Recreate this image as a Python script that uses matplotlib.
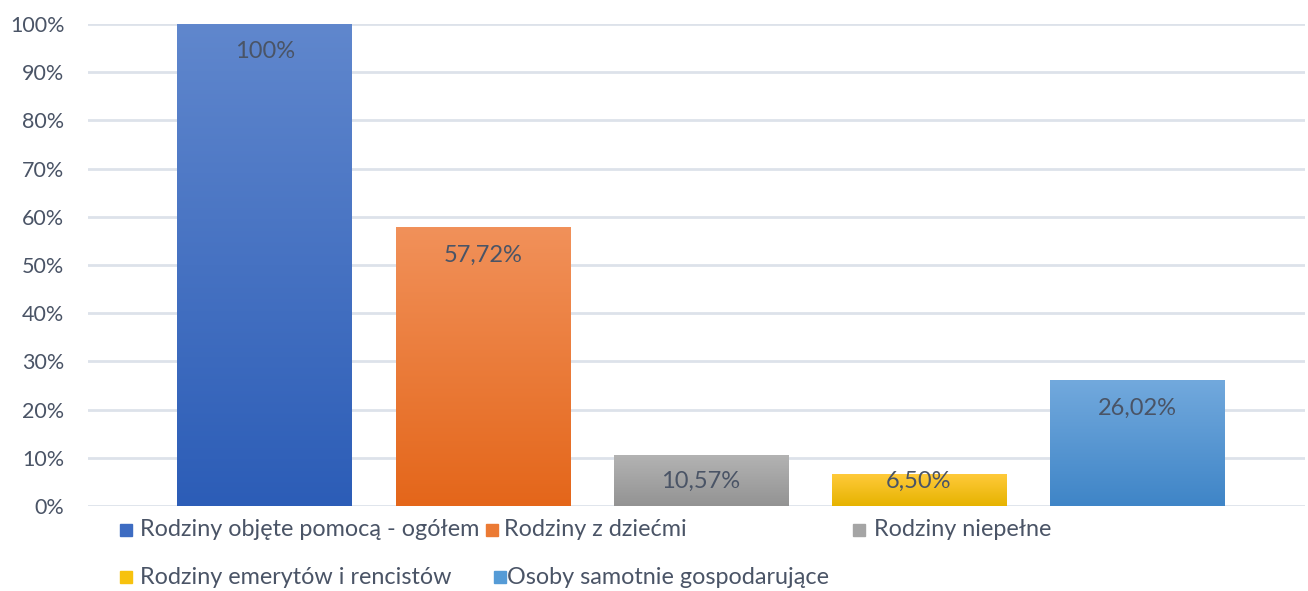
import matplotlib
matplotlib.use('Agg')
import matplotlib.pyplot as plt
import matplotlib.patches as mpatches
import numpy as np

plt.rcParams['font.family'] = ['Lato', 'DejaVu Sans']

# dane
kategorie = ['Rodziny objęte pomocą - ogółem', 'Rodziny z dziećmi', 'Rodziny niepełne',
             'Rodziny emerytów i rencistów', 'Osoby samotnie gospodarujące']
wartosci = [100.0, 57.72, 10.57, 6.50, 26.02]
etykiety = ['100%', '57,72%', '10,57%', '6,50%', '26,02%']
kolory_gora = ['#6087cd', '#f1915a', '#b3b3b3', '#ffca3a', '#72a9dd']
kolory_dol = ['#2c5db7', '#e4661a', '#939393', '#e6b300', '#3f85c7']
kolory_leg = ['#3d6cc2', '#eb7a34', '#a5a5a5', '#f7c20e', '#559bd6']

tekst = '#4a5466'

fig = plt.figure(figsize=(13.08, 5.91), dpi=100)
ax = fig.add_axes([88 / 1308, 1 - 506 / 591, (1305 - 88) / 1308, (506 - 24) / 591])

x = np.arange(len(wartosci))
szer = 0.8
bars = ax.bar(x, wartosci, width=szer, color='none', zorder=3)

# gradient na slupkach
for i, b in enumerate(bars):
    c1 = np.array(matplotlib.colors.to_rgb(kolory_gora[i]))
    c2 = np.array(matplotlib.colors.to_rgb(kolory_dol[i]))
    t = np.linspace(0, 1, 256)[:, None]
    grad = (c1 * (1 - t) + c2 * t)[:, None, :]
    ax.imshow(grad, extent=[b.get_x(), b.get_x() + b.get_width(), 0, b.get_height()],
              aspect='auto', origin='upper', zorder=3)
    # etykieta wewnatrz przy gorze slupka (przy niskich slupkach nie nizej niz 5.2)
    ax.text(b.get_x() + b.get_width() / 2, max(b.get_height() - 5.8, 5.2), etykiety[i],
            ha='center', va='center', fontsize=17, color=tekst, zorder=4)

ax.set_xlim(-0.81, 4.77)
ax.set_ylim(0, 100)
ax.set_yticks(np.arange(0, 101, 10))
ax.set_yticklabels([f'{v}%' for v in range(0, 101, 10)])
ax.set_xticks([])
ax.tick_params(axis='y', length=0, labelsize=15.5, labelcolor=tekst, pad=17)
ax.grid(axis='y', color='#dde2ea', linewidth=2, zorder=0)
for s in ax.spines.values():
    s.set_visible(False)

# legenda (dwa wiersze jak w oryginale)
poz = [(120, 140, 530), (486, 504, 530), (853, 874, 530), (120, 140, 577), (494, 507, 577)]
for i, (kx, tx, py) in enumerate(poz):
    fig.patches.append(mpatches.Rectangle((kx / 1308, 1 - (py + 6) / 591), 12 / 1308, 12 / 591,
                                          transform=fig.transFigure, color=kolory_leg[i]))
    fig.text(tx / 1308, 1 - py / 591, kategorie[i], ha='left', va='center',
             fontsize=16.8, color=tekst)

fig.savefig('out.png', dpi=100)
